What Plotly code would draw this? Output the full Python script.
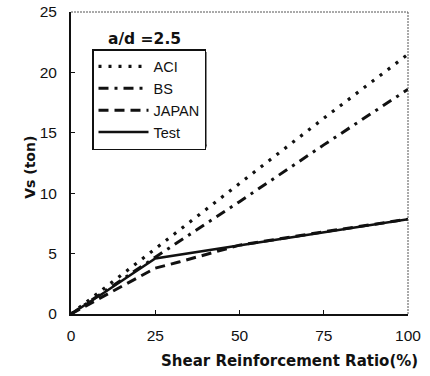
import plotly.graph_objects as go

# Shear reinforcement ratio (%) and shear strength Vs (ton), a/d = 2.5
ratio = [0, 25, 50, 75, 100]
aci = [0, 5.4, 10.8, 16.2, 21.5]
bs = [0, 4.7, 9.3, 14.0, 18.6]

japan_ratio = [0, 10, 25, 32, 42, 50, 75, 100]
japan = [0, 1.5, 3.8, 4.3, 5.1, 5.7, 6.8, 7.85]

test_ratio = [0, 10, 25, 50, 75, 100]
test = [0, 1.8, 4.6, 5.7, 6.8, 7.85]

x_ticks = [0, 25, 50, 75, 100]
y_ticks = [0, 5, 10, 15, 20, 25]

INK = "#111111"
FONT = "Liberation Sans, Arial, sans-serif"
HEAVY = "DejaVu Sans, Liberation Sans, sans-serif"

# plot area in pixels, used to place the legend and its drop shadow
L, R, T, B = 71, 22, 12, 62
W, H = 430, 376
PW, PH = W - L - R, H - T - B


def px_x(px):
    return (px - L) / PW


def px_y(py):
    return (H - B - py) / PH


fig = go.Figure()
fig.add_trace(go.Scatter(x=ratio, y=aci, mode="lines", name="ACI",
                         line=dict(color=INK, width=3.2, dash="3px,7px")))
fig.add_trace(go.Scatter(x=ratio, y=bs, mode="lines", name="BS",
                         line=dict(color=INK, width=3, dash="10px,6px,3px,6px")))
fig.add_trace(go.Scatter(x=japan_ratio, y=japan, mode="lines", name="JAPAN",
                         line=dict(color=INK, width=3, dash="10px,6px")))
fig.add_trace(go.Scatter(x=test_ratio, y=test, mode="lines", name="Test",
                         line=dict(color=INK, width=2.5)))

fig.update_layout(
    width=W, height=H,
    margin=dict(l=L, r=R, t=T, b=B, autoexpand=False),
    paper_bgcolor="white", plot_bgcolor="white",
    font=dict(family=FONT, color=INK, size=15),
    showlegend=True,
    legend=dict(
        x=px_x(92), y=px_y(49), xanchor="left", yanchor="top",
        bordercolor=INK, borderwidth=1.5, bgcolor="white",
        font=dict(size=14.5, family=FONT),
        tracegroupgap=0, itemwidth=50,
    ),
    xaxis=dict(
        range=[0, 100], tickvals=x_ticks, ticks="inside", ticklen=4,
        tickcolor=INK, showline=True, linecolor=INK, linewidth=2,
        showgrid=False, zeroline=False, ticklabelstandoff=6,
        tickfont=dict(size=15.5, family=FONT), automargin=False,
    ),
    yaxis=dict(
        range=[0, 25], tickvals=y_ticks, ticks="inside", ticklen=4,
        tickcolor=INK, showline=True, linecolor=INK, linewidth=2,
        showgrid=False, zeroline=False, ticklabelstandoff=9,
        tickfont=dict(size=15.5, family=FONT), automargin=False,
    ),
)

# thin dotted frame on the top and right sides
fig.add_shape(type="line", xref="paper", yref="paper", x0=0, x1=1, y0=1, y1=1,
              line=dict(color="#555555", width=1, dash="2px,1px"))
fig.add_shape(type="line", xref="paper", yref="paper", x0=1, x1=1, y0=0, y1=1,
              line=dict(color="#555555", width=1, dash="2px,1px"))

# drop shadow along the right and bottom edges of the legend box
fig.add_shape(type="line", xref="paper", yref="paper",
              x0=px_x(205), x1=px_x(205), y0=px_y(52), y1=px_y(146),
              line=dict(color=INK, width=3))
fig.add_shape(type="line", xref="paper", yref="paper",
              x0=px_x(95), x1=px_x(206.5), y0=px_y(146), y1=px_y(146),
              line=dict(color=INK, width=3))

# axis titles and the panel heading
fig.add_annotation(text="<b>Shear Reinforcement Ratio(%)</b>", xref="paper", yref="paper",
                   x=1.036, y=-0.156, xanchor="right", yanchor="middle",
                   showarrow=False, font=dict(size=15, family=HEAVY))
fig.add_annotation(text="<b>Vs (ton)</b>", xref="paper", yref="paper",
                   x=-0.122, y=0.487, xanchor="center", yanchor="middle",
                   textangle=-90, showarrow=False, font=dict(size=14, family=HEAVY))
fig.add_annotation(text="<b>a/d =2.5</b>", xref="paper", yref="paper",
                   x=0.105, y=0.91, xanchor="left", yanchor="middle",
                   showarrow=False, font=dict(size=15.5, family=HEAVY))

fig.write_html("out.html")
